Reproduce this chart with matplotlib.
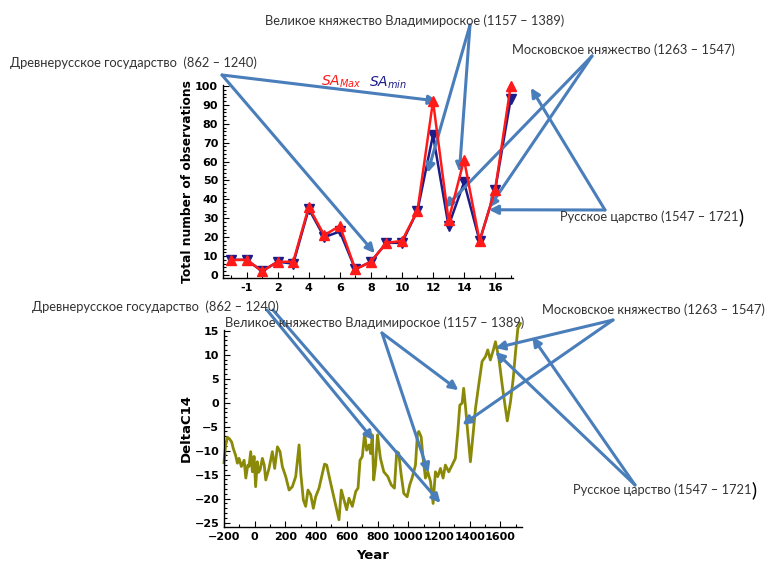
#!/usr/bin/env python3
"""
Solar activity (SA max / min counts per century) vs. DeltaC14,
annotated with the periods of Russian states.
Output: out.png
"""

import matplotlib
matplotlib.use("Agg")
import matplotlib.pyplot as plt
from matplotlib.ticker import MultipleLocator

W, H = 765, 562

#  Top panel data (position on axis, values per century) 
POS      = [-1, 0, 1, 2, 3, 4, 5, 6, 7, 8, 9, 10, 11, 12, 13, 14, 15, 16, 17]
SA_MAX   = [8, 8, 2, 7, 7, 36, 21, 26, 3, 7, 17, 18, 34, 92, 29, 61, 18, 45, 100]
SA_MIN   = [8, 8, 2, 7, 6, 35, 20, 23, 3, 7, 17, 17, 34, 74, 26, 49, 18, 45, 93]
TOP_XTICKS  = [0, 2, 4, 6, 8, 10, 12, 14, 16]
TOP_XLABELS = ["-1", "2", "4", "6", "8", "10", "12", "14", "16"]

#  Bottom panel data (DeltaC14 vs year) 
YEAR = [-200, -190, -178, -165, -150, -140, -124, -113, -102, -87, -69, -58,
        -45, -37, -26, -15, -4, 6, 17, 25, 35, 50, 62, 72, 93, 115, 130, 148,
        165, 180, 202, 224, 245, 267, 289, 300, 317, 332, 347, 365, 382, 397,
        419, 441, 455, 469, 490, 512, 534, 549, 564, 582, 599, 614, 636, 658,
        673, 686, 701, 716, 729, 745, 755, 766, 775, 787, 800, 819, 841, 867,
        889, 910, 925, 938, 954, 971, 993, 1010, 1025, 1047, 1060, 1069, 1084,
        1097, 1112, 1127, 1145, 1162, 1177, 1192, 1210, 1227, 1242, 1264, 1286,
        1307, 1323, 1336, 1351, 1361, 1372, 1387, 1405, 1422, 1438, 1459, 1481,
        1503, 1518, 1535, 1557, 1568, 1590, 1612, 1627, 1645, 1666, 1684, 1699,
        1714, 1730]
DC14 = [-12.5, -9, -7.2, -7.5, -8.2, -9.5, -11, -12.6, -11.6, -13.3, -12, -15.7,
        -13, -13.3, -10.2, -14.4, -11.2, -17.5, -12.3, -14.5, -14, -11.6, -13,
        -16.1, -13.7, -10.2, -13.7, -9.2, -10.2, -13.3, -15.4, -18.2, -17.5,
        -15.4, -8.8, -14.7, -20.3, -21.6, -18.2, -19.2, -22, -19.6, -17.8,
        -14.7, -12.8, -13, -16.1, -19.2, -22.3, -24.4, -18.2, -20.3, -22.3,
        -19.9, -21.6, -18.5, -17.8, -12, -11.2, -6.4, -9.9, -8.8, -10.6, -6.7,
        -16.1, -13, -6.7, -11.6, -14.4, -15.4, -17.1, -17.8, -10.2, -10.5, -15,
        -18.9, -19.6, -17.1, -15.7, -13, -6.5, -6, -7.1, -11.6, -15.7, -14.4,
        -16.4, -21, -14.4, -15.4, -13.7, -15.7, -13, -14.4, -13, -11.6, -6,
        -0.5, -0.1, 3, -0.5, -6, -12.3, -6.7, -1.2, 3.7, 8.6, 9.6, 11, 8.9,
        11.3, 12.7, 9.3, 3.7, 0.2, -3.8, 0.2, 5.1, 10.6, 15.5, 16.5]

LABEL_OLD  = "Древнерусское государство  (862 – 1240)"
LABEL_VLAD = "Великое княжество Владимироское (1157 – 1389)"
LABEL_MOSC = "Московское княжество (1263 – 1547)"
LABEL_TSAR = "Русское царство (1547 – 1721"

ARROW_C = "#4a7ebb"
TEXT_C  = "#333333"
TXT_FONT = ["Lato", "Open Sans", "DejaVu Sans"]
TXT_SIZE = 9.3


def fp(x, y):
    """image pixel (top-left origin) -> figure fraction"""
    return (x / W, 1 - y / H)


def arrow(ax, head, tail):
    ax.annotate("", xy=head, xycoords="data",
                xytext=fp(*tail), textcoords="figure fraction",
                annotation_clip=False,
                arrowprops=dict(arrowstyle="-|>", color=ARROW_C, lw=2.2,
                                mutation_scale=13, shrinkA=0, shrinkB=0))


def label(fig, text, x, y, big_paren=False):
    t = fig.text(*fp(x, y), text, ha="left", va="center", fontsize=TXT_SIZE,
                 color=TEXT_C, family=TXT_FONT)
    if big_paren:
        fig.add_artist(plt.Annotation(")", xy=(1.0, 0.45), xycoords=t,
                                      ha="left", va="center", fontsize=TXT_SIZE * 1.5,
                                      color="black", family=TXT_FONT))
    return t


def style_axis(ax):
    ax.spines[["top", "right"]].set_visible(False)
    ax.spines[["left", "bottom"]].set_linewidth(1.0)
    ax.tick_params(which="both", direction="in", labelsize=8, width=0.8)
    ax.tick_params(which="major", length=4)
    ax.tick_params(which="minor", length=2)
    for lab in ax.get_xticklabels() + ax.get_yticklabels():
        lab.set_fontweight("bold")


fig = plt.figure(figsize=(W / 100, H / 100), dpi=100)
fig.patch.set_facecolor("white")

#  Top panel 
ax1 = fig.add_axes([223 / W, 1 - 278 / H, (513 - 223) / W, (278 - 85) / H])
ax1.plot(POS, SA_MIN, "-v", color="#1c1c8a", lw=1.8, ms=6.5, clip_on=False, zorder=3)
ax1.plot(POS, SA_MAX, "-^", color="#ff1a1a", lw=1.8, ms=6.5, clip_on=False, zorder=4)
ax1.set_xlim(-1.52, 17.15)
ax1.set_ylim(-1.6, 100.5)
ax1.set_xticks(TOP_XTICKS)
ax1.set_xticklabels(TOP_XLABELS)
ax1.xaxis.set_minor_locator(MultipleLocator(1))
ax1.set_yticks(range(0, 101, 10))
ax1.yaxis.set_minor_locator(MultipleLocator(2))
ax1.set_ylabel("Total number of observations", fontsize=8.8, fontweight="bold",
               labelpad=1)
style_axis(ax1)

fig.text(*fp(321, 82), r"$\mathit{SA}_{Max}$", color="#ff1a1a", fontsize=10,
         ha="left", va="center", fontweight="bold")
fig.text(*fp(369, 83), r"$\mathit{SA}_{min}$", color="#1c1c8a", fontsize=10,
         ha="left", va="center", fontweight="bold")

#  Bottom panel 
ax2 = fig.add_axes([224 / W, 1 - 527 / H, (522 - 224) / W, (527 - 330) / H])
ax2.plot(YEAR, DC14, "-", color="#8a8a08", lw=2.0, clip_on=False)
ax2.set_xlim(-200, 1741)
ax2.set_ylim(-25.9, 15.15)
ax2.set_xticks(range(-200, 1601, 200))
ax2.xaxis.set_minor_locator(MultipleLocator(100))
ax2.set_yticks(range(-25, 16, 5))
ax2.yaxis.set_minor_locator(MultipleLocator(1))
ax2.set_xlabel("Year", fontsize=9.5, fontweight="bold", labelpad=5)
ax2.set_ylabel("DeltaC14", fontsize=9.5, fontweight="bold", labelpad=1)
style_axis(ax2)

#  Annotations, top 
label(fig, LABEL_OLD, 10, 63)
arrow(ax1, (12.3, 92), (222, 75))
arrow(ax1, (8.25, 11.5), (222, 75))

label(fig, LABEL_VLAD, 265, 21)
arrow(ax1, (11.65, 54), (470, 25))
arrow(ax1, (13.7, 54.5), (470, 25))

label(fig, LABEL_MOSC, 512, 50)
arrow(ax1, (12.75, 35.5), (592, 56))
arrow(ax1, (15.6, 35.5), (592, 56))

label(fig, LABEL_TSAR, 560, 217, big_paren=True)
arrow(ax1, (18.3, 99), (605, 210))
arrow(ax1, (15.6, 34.5), (605, 210))

#  Annotations, bottom 
label(fig, LABEL_OLD, 32, 307)
arrow(ax2, (774, -7.8), (267, 310))
arrow(ax2, (1210, -20.9), (273, 310))

label(fig, LABEL_VLAD, 225, 323)
arrow(ax2, (1327, 2.6), (382, 333))
arrow(ax2, (1132, -14.6), (382, 333))

label(fig, LABEL_MOSC, 542, 310)
arrow(ax2, (1568, 11.4), (613, 320))
arrow(ax2, (1353, -4.6), (613, 320))

label(fig, LABEL_TSAR, 573, 490, big_paren=True)
arrow(ax2, (1808, 13.7), (635, 485))
arrow(ax2, (1568, 10.6), (635, 485))

fig.savefig("out.png", dpi=100, facecolor="white")
plt.close(fig)
print("Saved out.png")
